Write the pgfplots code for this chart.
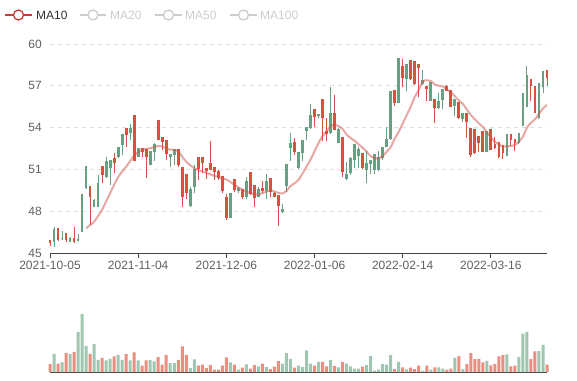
\documentclass[border=0pt]{standalone}
\usepackage{pgfplots}
\pgfplotsset{compat=1.18}
\usepackage{pgfplotstable}
\usepackage{fontspec}
\setmainfont{Liberation Sans}
\definecolor{cup}{RGB}{214,82,62}
\definecolor{cdn}{RGB}{104,161,130}
\definecolor{vup}{RGB}{234,142,128}
\definecolor{vdn}{RGB}{158,198,176}
\definecolor{maline}{RGB}{212,80,72}
\definecolor{legon}{RGB}{204,60,55}
\definecolor{gridc}{RGB}{224,224,224}
\definecolor{axisc}{RGB}{70,70,70}
\definecolor{labc}{RGB}{96,96,100}
\definecolor{legoff}{RGB}{204,204,204}
\definecolor{txtc}{RGB}{51,51,51}

\pgfplotstableread{
i o c l h v
0 45.70 45.90 45.50 45.95 8.0
1 46.65 45.81 45.45 46.89 18.3
2 45.93 46.72 45.85 46.75 8.3
3 46.05 45.98 45.95 46.58 10.0
4 45.93 46.41 45.77 46.45 19.0
5 46.05 45.81 45.77 46.12 18.3
6 45.81 46.05 45.69 46.84 20.3
7 46.00 45.89 45.85 46.36 40.3
8 49.21 46.53 46.50 49.25 58.3
9 51.20 49.64 49.60 51.25 26.3
10 49.04 49.76 47.01 49.80 18.3
11 48.80 48.33 48.30 48.85 28.3
12 50.00 48.33 48.30 50.60 12.3
13 50.60 51.20 50.00 51.25 14.3
14 51.56 50.48 50.36 51.91 11.7
15 51.67 51.08 49.88 51.70 13.3
16 51.44 51.79 50.72 52.15 15.7
17 52.58 51.91 51.85 52.60 17.3
18 53.47 52.75 52.03 53.54 12.3
19 53.47 53.92 52.58 53.95 18.0
20 53.95 53.59 53.11 54.23 11.7
21 51.63 54.86 51.60 54.90 19.7
22 52.51 51.91 51.90 52.55 11.7
23 52.27 52.51 51.91 52.55 6.3
24 51.91 52.39 50.36 52.42 11.7
25 52.27 51.32 51.30 52.30 12.3
26 52.80 52.27 51.63 52.87 10.7
27 53.11 54.50 53.10 54.55 15.0
28 52.99 53.30 52.39 53.35 7.3
29 52.10 53.10 51.65 53.12 17.3
30 52.10 51.87 51.15 52.12 9.0
31 52.44 52.03 51.30 52.46 9.0
32 51.32 52.39 51.15 52.42 12.3
33 49.04 51.15 48.28 51.18 25.7
34 49.28 50.60 48.88 50.62 17.3
35 49.52 48.37 48.33 49.71 4.0
36 50.96 49.71 49.28 51.32 12.7
37 51.00 51.84 50.24 51.86 6.3
38 51.44 51.84 50.72 51.86 7.3
39 50.90 51.08 50.30 51.10 4.0
40 50.96 51.44 50.94 53.04 7.0
41 50.84 51.15 50.24 51.17 2.3
42 50.36 50.84 50.24 50.96 2.3
43 49.45 50.48 49.28 50.50 6.3
44 47.49 49.00 47.37 49.21 14.7
45 49.28 47.54 47.50 49.30 9.7
46 49.52 50.24 49.38 50.26 7.3
47 49.59 49.47 49.28 49.71 2.3
48 49.04 49.57 48.88 49.60 4.3
49 50.12 49.04 48.88 50.48 7.7
50 49.23 50.79 49.16 50.80 3.3
51 48.97 49.81 48.33 49.83 7.0
52 49.52 49.04 48.99 49.71 5.7
53 49.47 49.59 49.28 50.19 8.3
54 50.12 49.45 48.85 50.67 5.0
55 49.35 50.31 49.00 50.33 3.0
56 49.04 49.28 49.00 49.35 5.3
57 48.37 49.09 46.96 49.10 11.0
58 48.09 47.97 47.85 48.52 8.3
59 51.36 49.81 49.40 51.38 19.0
60 52.87 52.51 51.63 53.64 13.3
61 52.27 52.95 52.03 53.23 4.3
62 52.24 51.12 51.00 52.26 6.3
63 53.06 52.15 51.60 53.08 5.0
64 54.00 53.78 53.10 54.02 21.7
65 54.86 53.95 53.90 55.69 8.3
66 54.74 55.31 54.02 55.33 6.3
67 54.95 54.86 54.67 54.97 10.3
68 54.71 55.98 53.06 56.00 10.3
69 53.54 53.71 53.06 54.67 5.7
70 54.98 53.64 53.54 56.94 12.3
71 53.83 54.98 53.80 56.34 6.0
72 53.88 52.92 52.88 53.95 4.7
73 50.84 53.28 50.43 53.30 10.3
74 50.60 50.31 50.24 51.50 8.3
75 51.79 50.72 50.60 51.91 5.7
76 52.75 51.67 51.08 52.80 3.3
77 52.39 51.96 51.08 52.63 3.3
78 51.08 52.15 51.00 52.17 5.3
79 51.44 50.96 50.05 52.32 7.0
80 51.67 51.39 50.65 51.70 16.0
81 52.10 50.96 50.67 52.12 1.3
82 51.87 50.96 50.90 52.32 2.3
83 52.58 51.79 51.70 52.62 8.0
84 53.16 52.63 52.60 54.02 7.3
85 56.58 53.16 53.14 56.60 17.0
86 55.79 56.65 55.55 56.67 3.0
87 58.97 55.79 55.75 59.00 10.3
88 57.54 58.37 56.94 58.90 4.7
89 58.49 57.46 56.65 58.51 2.7
90 57.46 58.78 57.40 58.80 4.3
91 57.10 58.75 57.05 58.77 3.0
92 58.25 58.56 56.17 58.58 6.3
93 57.37 57.10 57.08 58.13 1.3
94 56.75 56.94 55.93 56.96 6.3
95 57.22 55.93 55.90 57.24 2.3
96 55.38 55.98 54.35 56.00 4.7
97 55.86 55.38 55.35 56.46 4.7
98 56.70 55.98 55.31 56.72 3.3
99 56.65 56.94 56.63 57.06 2.3
100 55.50 56.65 55.48 56.67 3.3
101 55.98 55.55 54.83 56.00 14.3
102 54.67 55.79 54.60 55.81 16.0
103 54.98 54.60 54.43 55.00 3.0
104 54.43 54.98 53.23 55.00 8.0
105 52.03 53.95 51.91 53.97 19.0
106 52.15 53.88 52.10 53.90 13.0
107 52.87 53.35 52.27 53.40 13.3
108 52.27 53.71 52.25 53.73 9.7
109 53.71 52.27 52.25 53.73 11.3
110 52.39 53.88 52.37 53.90 6.7
111 52.51 52.75 52.49 53.35 8.0
112 51.91 52.92 51.80 52.94 15.7
113 52.15 52.68 51.75 52.70 17.0
114 53.47 51.96 51.94 53.49 17.7
115 53.11 53.47 52.68 53.49 5.7
116 52.87 53.16 52.34 53.18 6.3
117 53.59 52.87 52.85 53.61 15.0
118 56.41 54.11 54.09 56.43 38.7
119 57.70 55.50 55.45 58.44 40.3
120 57.00 57.46 55.93 57.48 13.0
121 55.07 56.94 55.05 56.96 20.7
122 57.18 54.67 54.65 57.20 21.0
123 58.01 56.94 56.46 58.03 27.3
124 57.54 58.06 57.00 58.08 7.3
}\kdata

\pgfplotstableread{
i ma
9 46.77
10 47.00
11 47.25
12 47.65
13 48.10
14 48.70
15 49.30
16 49.90
17 50.45
18 50.85
19 51.20
20 51.60
21 52.00
22 52.25
23 52.42
24 52.48
25 52.52
26 52.60
27 52.68
28 52.65
29 52.52
30 52.42
31 52.40
32 52.30
33 51.90
34 51.55
35 51.30
36 51.10
37 50.95
38 50.85
39 50.75
40 50.65
41 50.55
42 50.45
43 50.35
44 50.28
45 50.10
46 49.90
47 49.72
48 49.55
49 49.42
50 49.30
51 49.22
52 49.20
53 49.30
54 49.40
55 49.48
56 49.42
57 49.32
58 49.28
59 49.45
60 49.80
61 50.00
62 50.25
63 50.70
64 51.20
65 51.70
66 52.30
67 52.90
68 53.40
69 53.71
70 54.10
71 54.20
72 54.10
73 53.90
74 53.50
75 53.25
76 53.05
77 52.80
78 52.55
79 52.27
80 51.95
81 51.82
82 51.79
83 51.95
84 52.27
85 52.60
86 53.20
87 53.70
88 54.30
89 54.90
90 55.50
91 56.20
92 56.70
93 57.30
94 57.40
95 57.35
96 57.10
97 57.00
98 56.95
99 56.75
100 56.55
101 56.25
102 55.95
103 55.70
104 55.30
105 54.90
106 54.60
107 54.30
108 54.05
109 53.65
110 53.30
111 53.00
112 52.80
113 52.65
114 52.65
115 52.68
116 52.75
117 53.00
118 53.35
119 54.00
120 54.35
121 54.60
122 55.00
123 55.38
124 55.62
}\madata

\begin{document}
\begin{tikzpicture}[font=\fontsize{12}{14}\selectfont]
\path[use as bounding box] (0,0) rectangle (577pt,-380pt);
% legend
\draw[legon, line width=1.3pt] (5pt,-15pt) -- (32pt,-15pt);
\draw[legon, line width=1.3pt, fill=white] (18.5pt,-15pt) circle (5pt);
\node[anchor=west, inner sep=0pt, text=txtc] at (36pt,-15pt) {MA10};
\draw[legoff, line width=1.3pt] (80pt,-15pt) -- (106pt,-15pt);
\draw[legoff, line width=1.3pt, fill=white] (93pt,-15pt) circle (5pt);
\node[anchor=west, inner sep=0pt, text=legoff] at (110pt,-15pt) {MA20};
\draw[legoff, line width=1.3pt] (155pt,-15pt) -- (182pt,-15pt);
\draw[legoff, line width=1.3pt, fill=white] (168.5pt,-15pt) circle (5pt);
\node[anchor=west, inner sep=0pt, text=legoff] at (185pt,-15pt) {MA50};
\draw[legoff, line width=1.3pt] (230pt,-15pt) -- (257pt,-15pt);
\draw[legoff, line width=1.3pt, fill=white] (243.5pt,-15pt) circle (5pt);
\node[anchor=west, inner sep=0pt, text=legoff] at (260pt,-15pt) {MA100};

\begin{axis}[at={(50pt,-253pt)}, anchor=south west, scale only axis,
  width=497pt, height=209pt, xmin=0, xmax=124, ymin=45, ymax=60, clip=false,
  axis x line*=bottom, axis y line*=left, y axis line style={draw=none},
  x axis line style={axisc, line width=0.8pt, -},
  ytick={45,48,51,54,57,60},
  xtick={0,22,44,66,88,110},
  xticklabels={2021-10-05,2021-11-04,2021-12-06,2022-01-06,2022-02-14,2022-03-16},
  ymajorgrids, major grid style={gridc, line width=0.8pt, dash pattern=on 4pt off 4pt},
  tick align=outside, major tick length=5pt,
  ytick style={draw=none}, xtick style={axisc, line width=0.8pt},
  ticklabel style={text=labc, font=\fontsize{12}{14}\selectfont},
  yticklabel style={inner sep=0pt, xshift=-3pt},
  xticklabel style={inner sep=0pt, yshift=-3pt},
  /pgf/number format/assume math mode=true,
  candle/.style={only marks, mark=*, mark size=0pt, mark options={draw=none, fill=none},
    error bars/y dir=plus, error bars/y explicit, error bars/error mark=none}]
% wicks
\addplot[candle, restrict expr to domain={\thisrow{c}-\thisrow{o}}{0:100},
  error bars/error bar style={cup, line width=1pt}]
  table[x=i, y=l, y error expr=\thisrow{h}-\thisrow{l}]{\kdata};
\addplot[candle, restrict expr to domain={\thisrow{c}-\thisrow{o}}{-100:-0.00001},
  error bars/error bar style={cdn, line width=1pt}]
  table[x=i, y=l, y error expr=\thisrow{h}-\thisrow{l}]{\kdata};
% bodies
\addplot[candle, restrict expr to domain={\thisrow{c}-\thisrow{o}}{0:100},
  error bars/error bar style={cup, line width=2.8pt}]
  table[x=i, y=o, y error expr=\thisrow{c}-\thisrow{o}+0.04]{\kdata};
\addplot[candle, restrict expr to domain={\thisrow{c}-\thisrow{o}}{-100:-0.00001},
  error bars/error bar style={cdn, line width=2.8pt}]
  table[x=i, y=c, y error expr=\thisrow{o}-\thisrow{c}+0.04]{\kdata};
% MA10
\addplot[maline, line width=2pt, opacity=0.5, smooth] table[x=i, y=ma]{\madata};
\end{axis}

\begin{axis}[at={(50pt,-372pt)}, anchor=south west, scale only axis,
  width=497pt, height=58pt, xmin=0, xmax=124, ymin=0, ymax=58.3, clip=false,
  axis x line*=bottom, axis y line=none, xtick=\empty, ytick=\empty,
  x axis line style={axisc, line width=0.8pt, -},
  ybar, bar width=3pt, bar shift=0pt]
\addplot[fill=vup, draw=none, restrict expr to domain={\thisrow{c}-\thisrow{o}}{0:100}]
  table[x=i, y=v]{\kdata};
\addplot[fill=vdn, draw=none, restrict expr to domain={\thisrow{c}-\thisrow{o}}{-100:-0.00001}]
  table[x=i, y=v]{\kdata};
\end{axis}
\end{tikzpicture}
\end{document}
